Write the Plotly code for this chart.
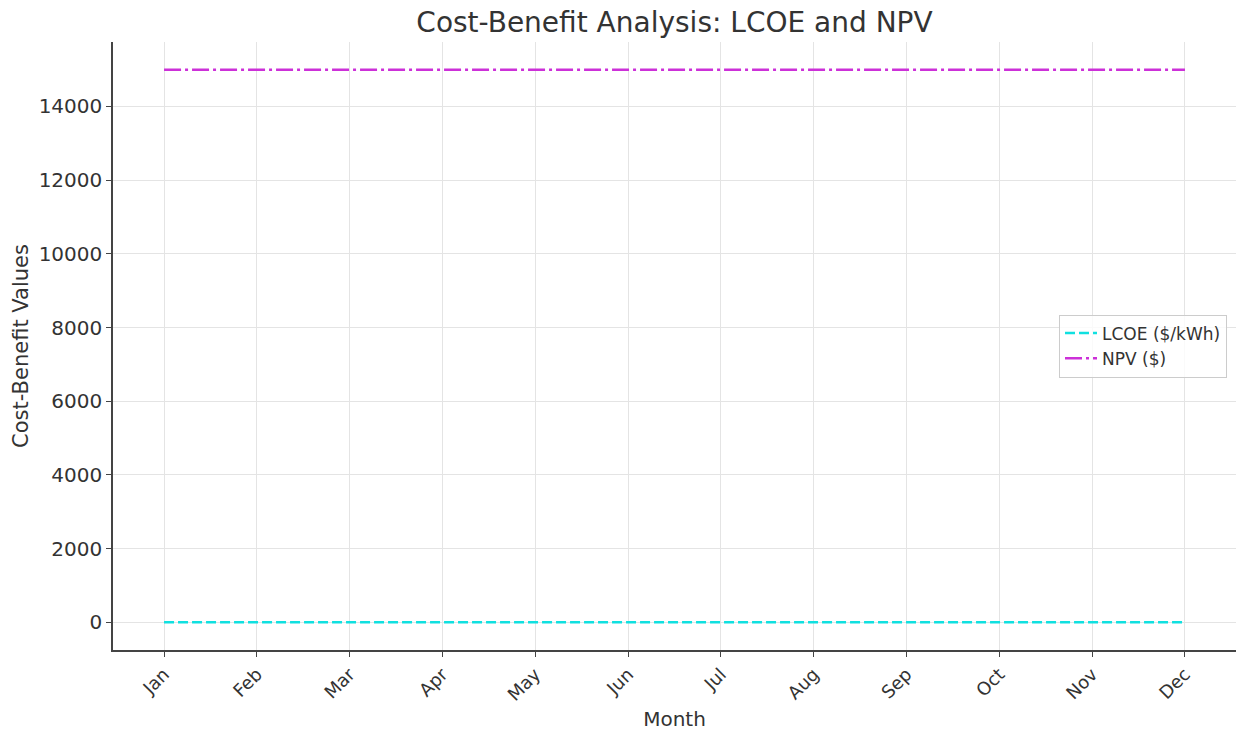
import plotly.graph_objects as go

months = ["Jan", "Feb", "Mar", "Apr", "May", "Jun", "Jul", "Aug", "Sep", "Oct", "Nov", "Dec"]
lcoe = [0.05, 0.05, 0.05, 0.05, 0.05, 0.05, 0.05, 0.05, 0.05, 0.05, 0.05, 0.05]
npv = [15000, 15000, 15000, 15000, 15000, 15000, 15000, 15000, 15000, 15000, 15000, 15000]
y_ticks = [0, 2000, 4000, 6000, 8000, 10000, 12000, 14000]
y_tick_labels = ["0", "2000", "4000", "6000", "8000", "10000", "12000", "14000"]

fig = go.Figure()
fig.add_trace(go.Scatter(x=list(range(12)), y=lcoe, mode="lines", name="LCOE ($/kWh)",
                         line=dict(color="#10e0e0", width=2.5, dash="10px,4px")))
fig.add_trace(go.Scatter(x=list(range(12)), y=npv, mode="lines", name="NPV ($)",
                         line=dict(color="#cc30d8", width=2.5, dash="17px,4px,3px,4px")))

font_family = "DejaVu Sans, sans-serif"
fig.update_layout(
    width=1237, height=731,
    margin=dict(l=113, r=1, t=42, b=81, autoexpand=False),
    paper_bgcolor="white", plot_bgcolor="white",
    font=dict(family=font_family, color="#333333", size=19),
    title=dict(text="Cost-Benefit Analysis: LCOE and NPV", x=0.5, xref="paper", xanchor="center",
               y=1 - 22 / 731, yref="container", yanchor="middle", font=dict(size=28, color="#333333"),
               automargin=False),
    showlegend=True,
    legend=dict(x=0.992, y=0.5, xanchor="right", yanchor="middle", bgcolor="rgba(255,255,255,0.8)",
                bordercolor="#cccccc", borderwidth=1, font=dict(size=17, color="#333333"),
                tracegroupgap=0, itemwidth=32),
)
fig.update_xaxes(
    tickmode="array", tickvals=list(range(12)), ticktext=months, tickangle=-45,
    range=[-0.55, 11.55], showgrid=True, gridcolor="#e4e4e4", gridwidth=1,
    showline=True, linecolor="#444444", linewidth=1.5, mirror=False,
    ticks="outside", ticklen=5, tickcolor="#444444", zeroline=False, automargin=False,
    title=dict(text="Month", font=dict(size=20), standoff=8), tickfont=dict(size=18),
)
fig.update_yaxes(
    tickmode="array", tickvals=y_ticks, ticktext=y_tick_labels, range=[-750, 15750],
    showgrid=True, gridcolor="#e4e4e4", gridwidth=1,
    showline=True, linecolor="#444444", linewidth=1.5, mirror=False,
    ticks="outside", ticklen=5, tickcolor="#444444", zeroline=False, automargin=False,
    title=dict(text="Cost-Benefit Values", font=dict(size=21), standoff=4), tickfont=dict(size=20),
)

fig.write_html("out.html", config={"displayModeBar": False},
               post_script="document.body.style.margin='0px';")
